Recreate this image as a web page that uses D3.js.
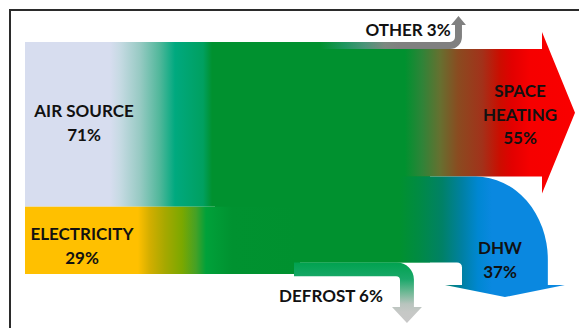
<!DOCTYPE html>
<html>
<head>
<meta charset="utf-8">
<script src="https://cdn.jsdelivr.net/npm/d3@7"></script>
<style>
  html, body { margin: 0; padding: 0; background: #fff; }
  svg { display: block; }
  text { font-family: Lato, "Open Sans", sans-serif; font-weight: 700; fill: #111; }
</style>
</head>
<body>
<svg id="chart" width="579" height="328"></svg>
<script>
// Heat pump energy balance: inputs on the left, outputs leaving right / up / down.
const sources = ["AIR SOURCE", "ELECTRICITY"];
const sourceValues = [71, 29];
const outputs = ["OTHER", "SPACE HEATING", "DHW", "DEFROST"];
const outputValues = [3, 55, 37, 6];

const svg = d3.select("#chart");
const defs = svg.append("defs");

// Band thickness per percent of energy flow
const thick = d3.scaleLinear().domain([0, 100]).range([0, 232]);
const bandTop = 42, bandLeft = 25, splitX = 294, joinX = 300;
const core = "#00912f";

// Frame
svg.append("rect")
  .attr("x", 10).attr("y", 10).attr("width", 700).attr("height", 500)
  .attr("fill", "none").attr("stroke", "#2b2b2b").attr("stroke-width", 2);

function gradient(id, horizontal, a, b, stops) {
  const g = defs.append("linearGradient").attr("id", id)
    .attr("gradientUnits", "userSpaceOnUse")
    .attr("x1", horizontal ? a : 0).attr("x2", horizontal ? b : 0)
    .attr("y1", horizontal ? 0 : a).attr("y2", horizontal ? 0 : b);
  stops.forEach(([p, c]) => g.append("stop").attr("offset", (p - a) / (b - a)).attr("stop-color", c));
  return `url(#${id})`;
}

const srcFill = {
  "AIR SOURCE": gradient("g-air", true, bandLeft, joinX, [
    [110, "#d7ddef"], [120, "#c6dae3"], [140, "#97cac3"], [160, "#4fb79a"],
    [175, "#00a97f"], [203, "#00a060"], [212, core], [300, core]]),
  "ELECTRICITY": gradient("g-elec", true, bandLeft, joinX, [
    [138, "#ffc000"], [150, "#d2ae00"], [165, "#a6a800"], [182, "#7ba800"],
    [196, "#44a126"], [206, "#00a13a"], [232, "#009230"], [300, core]])
};

const outFill = {
  "OTHER": gradient("g-other", true, splitX, 470, [
    [320, core], [345, "#1f9660"], [365, "#4b9478"], [385, "#7c8880"], [400, "#808080"], [470, "#808080"]]),
  "SPACE HEATING": gradient("g-space", true, splitX, 580, [
    [405, core], [422, "#2e8438"], [440, "#667030"], [458, "#8a4b20"], [482, "#a2321a"],
    [500, "#cc0d00"], [512, "#e20000"], [530, "#f60000"], [580, "#fa0000"]]),
  "DHW": gradient("g-dhw", true, splitX, 570, [
    [400, core], [420, "#008a45"], [442, "#008166"], [462, "#0080a2"], [478, "#0087d2"],
    [492, "#0a88e0"], [570, "#0a88e0"]]),
  "DEFROST": gradient("g-defrost", false, 262, 323, [
    [262, "#00a24e"], [279, "#1aa86a"], [292, "#6cb894"], [304, "#b8c4be"], [312, "#c6c8c6"], [323, "#c8c8c8"]])
};

// Source bands stacked from the top
let cum = 0;
const srcBands = sources.map((name, i) => {
  const y0 = bandTop + thick(cum);
  cum += sourceValues[i];
  return { name, value: sourceValues[i], y0, y1: bandTop + thick(cum) };
});

// Output bands stacked from the top
cum = 0;
const outBands = outputs.map((name, i) => {
  const y0 = bandTop + thick(cum);
  cum += outputValues[i];
  return { name, value: outputValues[i], y0, y1: bandTop + thick(cum) };
});
const ob = Object.fromEntries(outBands.map(d => [d.name, d]));

// Solid core behind the joins so band edges blend seamlessly
svg.append("rect")
  .attr("x", 215).attr("width", 215)
  .attr("y", bandTop).attr("height", ob["DHW"].y1 - bandTop)
  .attr("fill", core);

svg.selectAll("rect.src").data(srcBands).join("rect")
  .attr("class", "src")
  .attr("x", bandLeft).attr("width", joinX - bandLeft)
  .attr("y", d => d.y0).attr("height", d => d.y1 - d.y0)
  .attr("fill", d => srcFill[d.name]);

// Arrow shapes
function straightArrow(b, tipX, baseX, over) {
  const p = d3.path();
  const mid = (b.y0 + b.y1) / 2;
  p.moveTo(splitX, b.y0);
  p.lineTo(baseX, b.y0);
  p.lineTo(baseX, b.y0 - over);
  p.lineTo(tipX, mid);
  p.lineTo(baseX, b.y1 + over);
  p.lineTo(baseX, b.y1);
  p.lineTo(splitX, b.y1);
  p.closePath();
  return p.toString();
}
function upArrow(b, xi, ri, headBase, over, tipY) {
  const w = b.y1 - b.y0, xo = xi + w, ro = ri + w;
  return `M${splitX},${b.y0}H${xi - ri}A${ri},${ri} 0 0 0 ${xi},${b.y0 - ri}` +
    `V${headBase}H${xi - over}L${xi + w / 2},${tipY}L${xo + over},${headBase}H${xo}` +
    `V${b.y1 - ro}A${ro},${ro} 0 0 1 ${xo - ro},${b.y1}H${splitX}Z`;
}
function downArrow(b, xi, ri, rox, roy, headBase, over, tipY) {
  const w = b.y1 - b.y0, xo = xi + w;
  return `M${splitX},${b.y0}H${xo - rox}A${rox},${roy} 0 0 1 ${xo},${b.y0 + roy}` +
    `V${headBase}H${xo + over}L${xi + w / 2},${tipY}L${xi - over},${headBase}H${xi}` +
    `V${b.y1 + ri}A${ri},${ri} 0 0 0 ${xi - ri},${b.y1}H${splitX}Z`;
}

const shapes = {
  "SPACE HEATING": straightArrow(ob["SPACE HEATING"], 575, 542, 17),
  "OTHER": upArrow(ob["OTHER"], 455, 5, 25, 4, 16),
  "DHW": downArrow(ob["DHW"], 462, 5, 72, 83, 285, 17, 297),
  "DEFROST": downArrow(ob["DEFROST"], 400, 4, 17, 17, 307, 8, 323)
};

svg.selectAll("path.out").data(outBands).join("path")
  .attr("class", "out")
  .attr("d", d => shapes[d.name])
  .attr("fill", d => outFill[d.name]);

// Labels
const labelPos = {
  "AIR SOURCE": { x: 84, y: 117, lines: ["AIR SOURCE"] },
  "ELECTRICITY": { x: 82, y: 240, lines: ["ELECTRICITY"] },
  "SPACE HEATING": { x: 520, y: 97, lines: ["SPACE", "HEATING"] },
  "DHW": { x: 500, y: 254, lines: ["DHW"] },
  "OTHER": { x: 408, y: 36, lines: [], inline: true },
  "DEFROST": { x: 331, y: 302, lines: [], inline: true }
};
const allBands = srcBands.concat(outBands);
allBands.forEach(d => {
  const pos = labelPos[d.name];
  const t = svg.append("text").attr("text-anchor", "middle").attr("font-size", 17);
  if (pos.inline) {
    t.attr("x", pos.x).attr("y", pos.y).text(`${d.name} ${d.value}%`);
  } else {
    pos.lines.concat([`${d.value}%`]).forEach((line, i) => {
      t.append("tspan").attr("x", pos.x).attr("y", pos.y + i * 23.5).text(line);
    });
  }
});
</script>
</body>
</html>
